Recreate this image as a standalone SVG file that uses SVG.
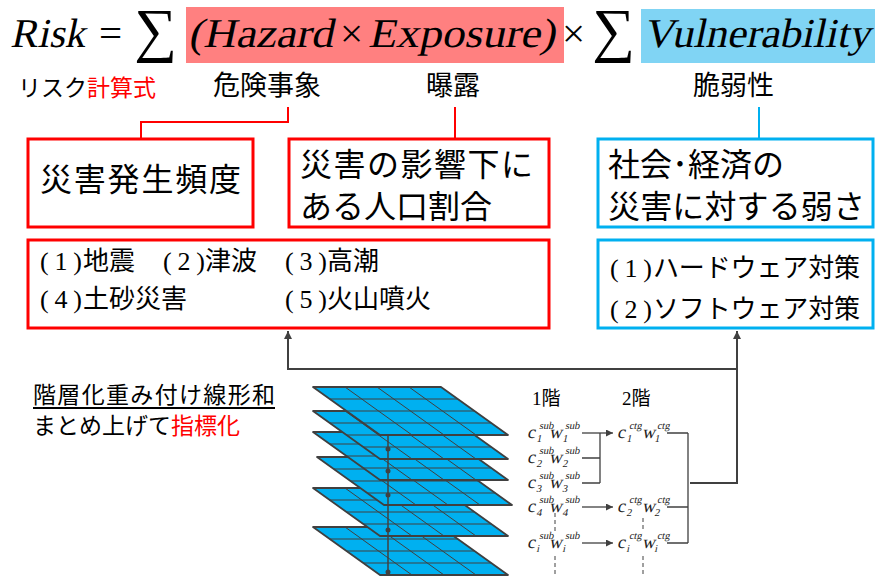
<svg xmlns="http://www.w3.org/2000/svg" xmlns:xlink="http://www.w3.org/1999/xlink" width="875" height="576" viewBox="0 0 875 576">
<style>
.math{font-family:"Liberation Serif","Times New Roman",serif;font-size:41px;fill:#000}
.sum{font-family:"Liberation Serif","DejaVu Serif",serif;font-size:60px;fill:#000}
.jp{font-family:"Noto Sans CJK JP","Noto Sans",sans-serif;fill:#000}
.num{font-family:"Liberation Serif","Times New Roman",serif;fill:#000}
.red{fill:#FF0000}
.rbox{fill:#fff;stroke:#FF0000;stroke-width:3}
.bbox{fill:#fff;stroke:#00B0F0;stroke-width:3}
.t{font-family:"Liberation Serif","Times New Roman",serif;font-size:18px;fill:#222}
.s{font-family:"Liberation Serif","Times New Roman",serif;font-size:10.5px;fill:#222}
.con{fill:none;stroke:#404040;stroke-width:2}
.thin{fill:none;stroke:#404040;stroke-width:1.3}
.dash{fill:none;stroke:#404040;stroke-width:1;stroke-dasharray:4 3}
.lay{fill:#00B0F0;stroke:#404040;stroke-width:1.8;stroke-linejoin:round}
.grid{fill:none;stroke:#404040;stroke-width:1}
</style>
<defs>
<marker id="ah" viewBox="0 0 10 10" refX="10" refY="5" markerWidth="7" markerHeight="7" markerUnits="userSpaceOnUse" orient="auto">
<path d="M0,0 L10,5 L0,10 z" fill="#404040"/>
</marker>
<marker id="ah2" viewBox="0 0 10 10" refX="10" refY="5" markerWidth="8" markerHeight="8" markerUnits="userSpaceOnUse" orient="auto">
<path d="M0,0 L10,5 L0,10 z" fill="#404040"/>
</marker>
<g id="layer">
<path class="lay" d="M0,0 L128,0 L195,48 L67,48 Z"/>
<path class="grid" d="M16.75,12 L144.75,12 M33.5,24 L161.5,24 M50.25,36 L178.25,36 M32,0 L99,48 M64,0 L131,48 M96,0 L163,48"/>
</g>
</defs>

<g id="formula">
<rect x="186" y="7" width="378" height="56" fill="#FF8080"/>
<rect x="641" y="9" width="234" height="54" fill="#80D4F4"/>
<g transform="translate(10,0) skewX(-12)">
<text class="math" x="10" y="47" textLength="75" lengthAdjust="spacingAndGlyphs">Risk</text>
<text class="math" x="188" y="47" textLength="145" lengthAdjust="spacingAndGlyphs">(Hazard</text>
<text class="math" x="368" y="47" textLength="187" lengthAdjust="spacingAndGlyphs">Exposure)</text>
<text class="math" x="643" y="47" textLength="227" lengthAdjust="spacingAndGlyphs">Vulnerability</text>
</g>
<text class="math" x="99" y="47">=</text>
<text class="math" x="340" y="47">×</text>
<text class="math" x="562" y="47">×</text>
<text class="sum" x="134" y="50">∑</text>
<text class="sum" x="592" y="50">∑</text>
</g>

<g id="labels">
<text class="jp" x="18" y="96" font-size="23">リスク<tspan class="red">計算式</tspan></text>
<text class="jp" x="213" y="95" font-size="27">危険事象</text>
<text class="jp" x="426" y="95" font-size="27">曝露</text>
<text class="jp" x="693" y="95" font-size="27">脆弱性</text>
</g>

<g id="connectors">
<path d="M288,107 V122 H141 V139" fill="none" stroke="#FF0000" stroke-width="2"/>
<path d="M455,107 V139" fill="none" stroke="#FF0000" stroke-width="2"/>
<path d="M759,107 V139" fill="none" stroke="#00B0F0" stroke-width="2"/>
<path class="con" d="M737,369 H288 V331" marker-end="url(#ah2)"/>
<path class="con" d="M690,483 H737 V331" marker-end="url(#ah2)"/>
<path class="thin" d="M582,433 H613" marker-end="url(#ah)"/>
<path class="thin" d="M582,458 H600 M582,483 H600 M600,433 V483"/>
<path class="thin" d="M582,507 H613" marker-end="url(#ah)"/>
<path class="thin" d="M582,543 H613" marker-end="url(#ah)"/>
<path class="thin" d="M667,433 H688 M667,507 H688 M667,543 H688 M688,433 V543"/>
<path class="dash" d="M555,513 V532 M555,556 V577 M643,518 V532 M643,556 V577"/>
</g>

<g id="box-hazard">
<rect class="rbox" x="28" y="139" width="225" height="88"/>
<text class="jp" x="40" y="191" font-size="32" textLength="201">災害発生頻度</text>
</g>
<g id="box-exposure">
<rect class="rbox" x="289" y="139" width="260" height="88"/>
<text class="jp" x="300" y="176" font-size="32" textLength="233">災害の影響下に</text>
<text class="jp" x="300" y="218" font-size="32">ある人口割合</text>
</g>
<g id="box-vulnerability">
<rect class="bbox" x="598" y="139" width="275" height="88"/>
<text class="jp" x="608" y="176" font-size="32">社会･経済の</text>
<text class="jp" x="608" y="218" font-size="32" textLength="257">災害に対する弱さ</text>
</g>

<g id="box-hazard-list" font-size="26">
<rect class="rbox" x="28" y="240" width="521" height="88"/>
<text class="num" x="40" y="270" textLength="42">(1)</text><text class="jp" x="83" y="270">地震</text>
<text class="num" x="163" y="270" textLength="42">(2)</text><text class="jp" x="205" y="270">津波</text>
<text class="num" x="285" y="270" textLength="42">(3)</text><text class="jp" x="327" y="270">高潮</text>
<text class="num" x="40" y="308" textLength="42">(4)</text><text class="jp" x="83" y="308">土砂災害</text>
<text class="num" x="285" y="308" textLength="42">(5)</text><text class="jp" x="327" y="308">火山噴火</text>
</g>
<g id="box-vulnerability-list" font-size="26">
<rect class="bbox" x="598" y="240" width="275" height="88"/>
<text class="num" x="610" y="277" textLength="42">(1)</text><text class="jp" x="653" y="277" textLength="207">ハードウェア対策</text>
<text class="num" x="610" y="318" textLength="42">(2)</text><text class="jp" x="653" y="318" textLength="207">ソフトウェア対策</text>
</g>

<g id="note">
<text class="jp" x="33" y="403" font-size="23" textLength="242">階層化重み付け線形和</text>
<line x1="33" y1="408" x2="275" y2="408" stroke="#000" stroke-width="2"/>
<text class="jp" x="33" y="434" font-size="23">まとめ上げて<tspan class="red">指標化</tspan></text>
</g>

<g id="layers">
<use xlink:href="#layer" x="313" y="527"/>
<use xlink:href="#layer" x="313" y="488"/>
<use xlink:href="#layer" x="317" y="457"/>
<use xlink:href="#layer" x="313" y="432"/>
<use xlink:href="#layer" x="313" y="411"/>
<use xlink:href="#layer" x="313" y="387"/>
<path d="M388,436 V572" stroke="#404040" stroke-width="1.5"/>
<g fill="#404040">
<circle cx="388" cy="449" r="2.5"/><circle cx="388" cy="471" r="2.5"/><circle cx="388" cy="495" r="2.5"/><circle cx="388" cy="530" r="2.5"/><circle cx="388" cy="572" r="2.5"/>
</g>
</g>

<g id="levels">
<text x="532" y="405" font-size="19"><tspan class="num">1</tspan><tspan class="jp">階</tspan></text>
<text x="622" y="405" font-size="19"><tspan class="num">2</tspan><tspan class="jp">階</tspan></text>
</g>

<g id="terms-sub">
<g transform="translate(93.1,0) skewX(-12)"><text class="t" x="527" y="438">c</text><text class="s" x="537" y="429">sub</text><text class="s" x="537" y="442">1</text><text class="t" x="549" y="438">w</text><text class="s" x="563" y="429">sub</text><text class="s" x="563" y="442">1</text></g>
<g transform="translate(98.4,0) skewX(-12)"><text class="t" x="527" y="463">c</text><text class="s" x="537" y="454">sub</text><text class="s" x="537" y="467">2</text><text class="t" x="549" y="463">w</text><text class="s" x="563" y="454">sub</text><text class="s" x="563" y="467">2</text></g>
<g transform="translate(103.7,0) skewX(-12)"><text class="t" x="527" y="488">c</text><text class="s" x="537" y="479">sub</text><text class="s" x="537" y="492">3</text><text class="t" x="549" y="488">w</text><text class="s" x="563" y="479">sub</text><text class="s" x="563" y="492">3</text></g>
<g transform="translate(108.9,0) skewX(-12)"><text class="t" x="527" y="512">c</text><text class="s" x="537" y="503">sub</text><text class="s" x="537" y="516">4</text><text class="t" x="549" y="512">w</text><text class="s" x="563" y="503">sub</text><text class="s" x="563" y="516">4</text></g>
<g transform="translate(116.5,0) skewX(-12)"><text class="t" x="527" y="548">c</text><text class="s" x="537" y="539">sub</text><text class="s" x="537" y="552">i</text><text class="t" x="549" y="548">w</text><text class="s" x="563" y="539">sub</text><text class="s" x="563" y="552">i</text></g>
</g>
<g id="terms-ctg">
<g transform="translate(93.1,0) skewX(-12)"><text class="t" x="617" y="438">c</text><text class="s" x="627" y="429">ctg</text><text class="s" x="627" y="442">1</text><text class="t" x="642" y="438">w</text><text class="s" x="655" y="429">ctg</text><text class="s" x="655" y="442">1</text></g>
<g transform="translate(108.9,0) skewX(-12)"><text class="t" x="617" y="512">c</text><text class="s" x="627" y="503">ctg</text><text class="s" x="627" y="516">2</text><text class="t" x="642" y="512">w</text><text class="s" x="655" y="503">ctg</text><text class="s" x="655" y="516">2</text></g>
<g transform="translate(116.5,0) skewX(-12)"><text class="t" x="617" y="548">c</text><text class="s" x="627" y="539">ctg</text><text class="s" x="627" y="552">i</text><text class="t" x="642" y="548">w</text><text class="s" x="655" y="539">ctg</text><text class="s" x="655" y="552">i</text></g>
</g>
</svg>
